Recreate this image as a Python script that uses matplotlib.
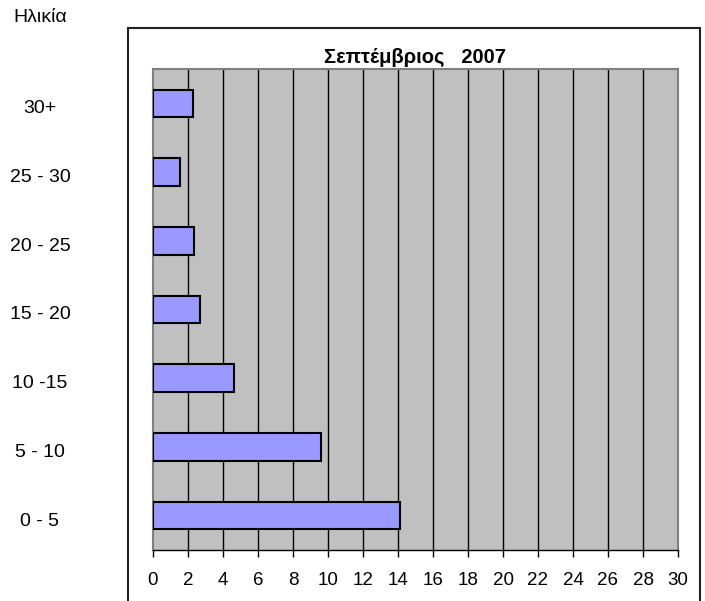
import matplotlib.pyplot as plt
from matplotlib.patches import Rectangle
from matplotlib.transforms import blended_transform_factory
import numpy as np

plt.rcParams['font.family'] = ['Liberation Sans', 'DejaVu Sans']

ages = ["0 - 5", "5 - 10", "10 -15", "15 - 20", "20 - 25", "25 - 30", "30+"]
values = [14.1, 9.6, 4.6, 2.7, 2.35, 1.55, 2.27]
xticks = list(range(0, 31, 2))

fig = plt.figure(figsize=(7.05, 6.01), dpi=100)
ax = fig.add_axes([153/705, 51/601, 525/705, 481/601])

y = np.arange(len(ages))
ax.barh(y, values, height=0.4, color="#9999FF", edgecolor="black",
        linewidth=1.5, zorder=3)

ax.set_facecolor("#C0C0C0")
ax.set_xlim(0, 30)
ax.set_ylim(-0.5, len(ages) - 0.5)
ax.set_xticks(xticks)
ax.set_yticks([])
for t in xticks[1:-1]:
    ax.axvline(t, color="black", linewidth=1, zorder=1)

for s in ["top", "right", "left"]:
    ax.spines[s].set_color("#808080")
    ax.spines[s].set_linewidth(1.5)
ax.spines["bottom"].set_color("black")
ax.spines["bottom"].set_linewidth(1)
ax.tick_params(axis="x", direction="out", length=5, width=1, pad=11,
               labelsize=13.5)

# category labels outside the frame
tr = blended_transform_factory(fig.transFigure, ax.transData)
for yi, lab in zip(y, ages):
    fig.text(40/705, yi - 0.08, lab, transform=tr, ha="center", va="center",
             fontsize=14)

ax.set_title("Σεπτέμβριος   2007", fontsize=14.5, fontweight="bold", pad=4)
fig.text(40/705, 1 - 18/601, "Ηλικία", ha="center", va="center", fontsize=14)

frame = Rectangle((128/705, -0.02), (700 - 128)/705, 0.02 + (601 - 28)/601,
                  transform=fig.transFigure, fill=False, edgecolor="#222222",
                  linewidth=1.5)
fig.patches.append(frame)

fig.savefig("out.png", dpi=100)
